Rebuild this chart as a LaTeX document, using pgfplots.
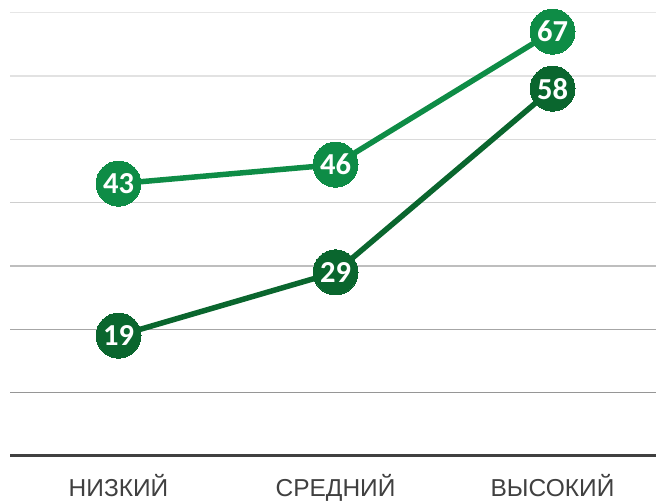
\documentclass[border=0pt]{standalone}
\usepackage{pgfplots}
\pgfplotsset{compat=1.18}
\usepackage{fontspec}
\setmainfont{Liberation Sans}
\newfontfamily\carlito{Carlito}
\definecolor{lightg}{RGB}{14,140,70}
\definecolor{darkg}{RGB}{10,102,46}
\definecolor{axisgray}{RGB}{64,64,64}
\definecolor{labgray}{RGB}{64,64,64}
\begin{document}
\begin{tikzpicture}
\begin{axis}[
  at={(0,0)}, anchor=south west,
  width=645.6pt, height=456pt, scale only axis,
  xmin=-0.5, xmax=2.475, ymin=0, ymax=72,
  clip=false,
  axis y line=none,
  axis x line*=bottom,
  x axis line style={line width=3pt, color=axisgray, -},
  xtick={0,1,2},
  xticklabels={НИЗКИЙ,СРЕДНИЙ,ВЫСОКИЙ},
  major tick length=0pt,
  ytick=\empty,
  /pgf/number format/assume math mode=true,
  xticklabel style={anchor=base, yshift=-41pt, font=\fontsize{24.5}{28}\selectfont, text=labgray},
  nodes near coords={\pgfmathprintnumber[assume math mode=true]{\pgfplotspointmeta}},
  every node near coord/.append style={anchor=center, text=white, font=\carlito\bfseries\fontsize{30.5}{32}\selectfont},
]
\draw[line width=1.5pt, color={rgb,255:red,230;green,230;blue,230}] (axis cs:-0.5,70) -- (axis cs:2.475,70);
\draw[line width=1.5pt, color={rgb,255:red,226;green,226;blue,226}] (axis cs:-0.5,60) -- (axis cs:2.475,60);
\draw[line width=1.5pt, color={rgb,255:red,218;green,218;blue,218}] (axis cs:-0.5,50) -- (axis cs:2.475,50);
\draw[line width=1.5pt, color={rgb,255:red,206;green,206;blue,206}] (axis cs:-0.5,40) -- (axis cs:2.475,40);
\draw[line width=1.5pt, color={rgb,255:red,190;green,190;blue,190}] (axis cs:-0.5,30) -- (axis cs:2.475,30);
\draw[line width=1.5pt, color={rgb,255:red,166;green,166;blue,166}] (axis cs:-0.5,20) -- (axis cs:2.475,20);
\draw[line width=1.5pt, color={rgb,255:red,150;green,150;blue,150}] (axis cs:-0.5,10) -- (axis cs:2.475,10);
\addplot[color=lightg, line width=5.5pt, mark=*, mark size=22.5pt, mark options={fill=lightg, draw=lightg, line width=0pt}]
  coordinates {(0,43) (1,46) (2,67)};
\addplot[color=darkg, line width=5.5pt, mark=*, mark size=22.5pt, mark options={fill=darkg, draw=darkg, line width=0pt}]
  coordinates {(0,19) (1,29) (2,58)};
\end{axis}
\pgfresetboundingbox
\path (-10pt,-46pt) rectangle (646pt,456pt);
\end{tikzpicture}
\end{document}
